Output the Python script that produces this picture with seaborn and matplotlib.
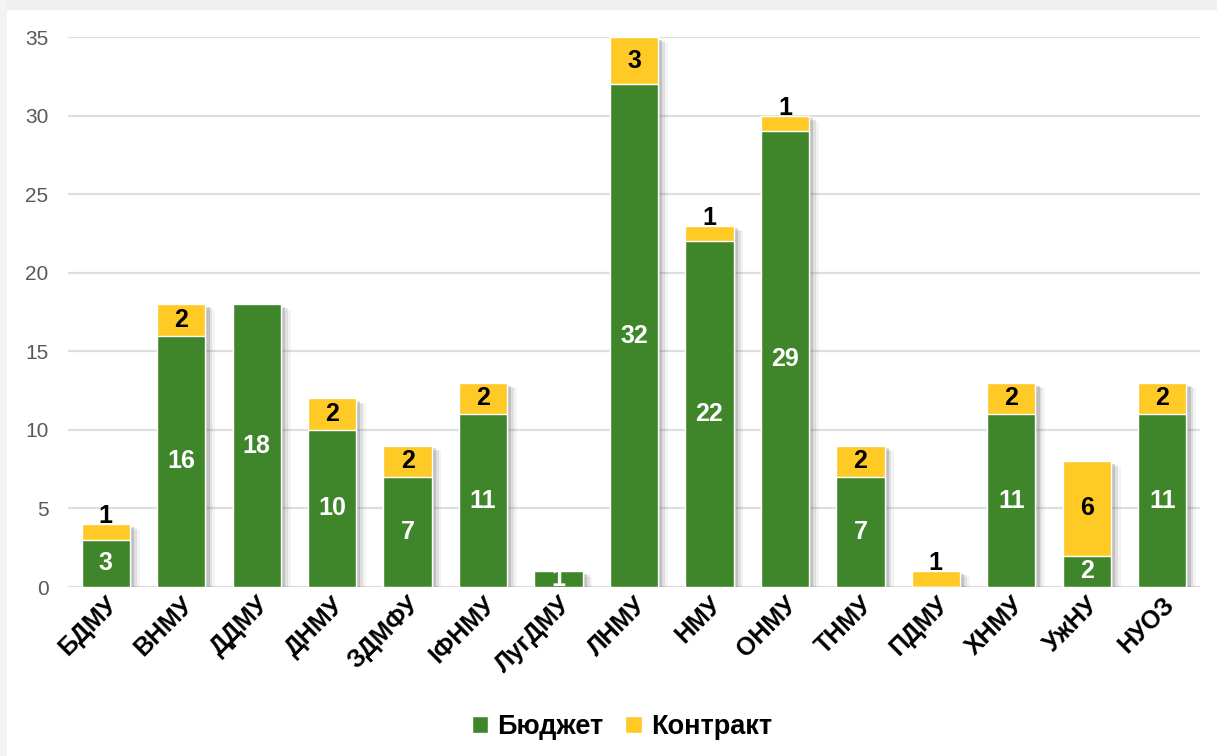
import matplotlib
matplotlib.use('Agg')
import matplotlib.pyplot as plt
import matplotlib.patheffects as pe
from matplotlib.patches import Rectangle, Patch
import seaborn as sns
import pandas as pd

universities = ['БДМУ', 'ВНМУ', 'ДДМУ', 'ДНМУ', 'ЗДМФУ', 'ІФНМУ', 'ЛугДМУ', 'ЛНМУ',
                'НМУ', 'ОНМУ', 'ТНМУ', 'ПДМУ', 'ХНМУ', 'УжНУ', 'НУОЗ']
budget = [3, 16, 18, 10, 7, 11, 1, 32, 22, 29, 7, 0, 11, 2, 11]
contract = [1, 2, 0, 2, 2, 2, 0, 3, 1, 1, 2, 1, 2, 6, 2]

green = '#3f862b'
yellow = '#ffc926'

df = pd.DataFrame({'uni': universities, 'budget': budget, 'contract': contract})
df['total'] = df['budget'] + df['contract']

sns.set_style('white')
plt.rcParams['font.family'] = ['Liberation Sans', 'DejaVu Sans']

fig = plt.figure(figsize=(12.17, 7.56), dpi=100)
fig.patch.set_facecolor('white')
# card shadow at top/left
fig.patches.append(Rectangle((0, 0.987), 1, 0.013, transform=fig.transFigure,
                             facecolor='#efefef', edgecolor='none', zorder=0))
fig.patches.append(Rectangle((0, 0), 0.006, 1, transform=fig.transFigure,
                             facecolor='#f3f3f3', edgecolor='none', zorder=0))

ax = fig.add_axes([0.0559, 0.2235, 0.9301, 0.7275])

sns.barplot(data=df, x='uni', y='total', color=yellow, saturation=1, width=0.64,
            ax=ax, zorder=3)
# soft drop shadow, a few stacked offsets
shadow = [pe.SimplePatchShadow(offset=(7, -4), shadow_rgbFace='#777777', alpha=0.08),
          pe.SimplePatchShadow(offset=(5, -3), shadow_rgbFace='#666666', alpha=0.14),
          pe.SimplePatchShadow(offset=(3, -2), shadow_rgbFace='#555555', alpha=0.22),
          pe.Normal()]
for p in ax.patches:
    p.set_path_effects(shadow)
sns.barplot(data=df, x='uni', y='budget', color=green, saturation=1, width=0.64,
            ax=ax, zorder=4)

for i, (b, c) in enumerate(zip(budget, contract)):
    if b > 0:
        ax.text(i, b / 2, str(b), ha='center', va='center', color='white',
                fontsize=18, fontweight='bold', zorder=6)
    if c > 0:
        y = b + c / 2
        if c == 1:
            y = b + c + 0.5
        ax.text(i, y, str(c), ha='center', va='center', color='black',
                fontsize=18, fontweight='bold', zorder=6)

ax.set_ylim(0, 35)
ax.set_xlim(-0.5, 14.5)
ax.set_yticks(range(0, 36, 5))
ax.yaxis.grid(True, color='#dedede', linewidth=1.6, zorder=0)
ax.set_axisbelow(True)
for s in ax.spines.values():
    s.set_visible(False)
ax.set_xlabel('')
ax.set_ylabel('')
ax.tick_params(axis='y', labelsize=15, labelcolor='#595959', length=0, pad=14)
ax.tick_params(axis='x', length=0, pad=4)
ax.set_xticks(range(len(universities)))
ax.set_xticklabels(universities, rotation=45, ha='right', rotation_mode='anchor',
                   fontsize=18, fontweight='bold', color='black')

handles = [Patch(facecolor=green, label='Бюджет'), Patch(facecolor=yellow, label='Контракт')]
leg = fig.legend(handles=handles, loc='center', bbox_to_anchor=(0.511, 0.038), ncol=2,
                 frameon=False, prop={'size': 19.5, 'weight': 'bold'},
                 handlelength=0.6, handleheight=0.6, handletextpad=0.35, columnspacing=0.8)
for t in leg.get_texts():
    t.set_color('black')

fig.savefig('out.png', dpi=100)
